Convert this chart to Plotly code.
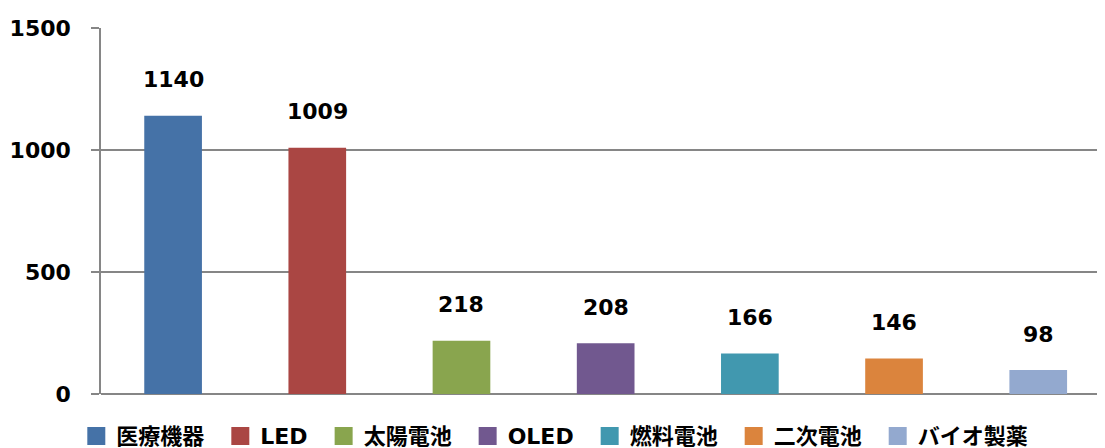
import plotly.graph_objects as go

categories = ["医療機器", "LED", "太陽電池", "OLED", "燃料電池", "二次電池", "バイオ製薬"]
values = [1140, 1009, 218, 208, 166, 146, 98]
colors = ["#4572A7", "#AA4643", "#89A54E", "#71588F", "#4198AF", "#DB843D", "#93A9CF"]
y_ticks = [0, 500, 1000, 1500]

FONT = "DejaVu Sans, Noto Sans CJK JP, sans-serif"

fig = go.Figure()
fig.add_trace(go.Bar(
    x=categories, y=values, marker=dict(color=colors, line=dict(width=0)),
    width=0.40, showlegend=False, hoverinfo="x+y",
))
for i, (c, col) in enumerate(zip(categories, colors)):
    pad = "\u2002" if i < len(categories) - 1 else ""
    fig.add_trace(go.Scatter(
        x=[None], y=[None], mode="markers", name=c + pad,
        marker=dict(symbol="square", size=16, color=col, line=dict(color=col, width=2)),
    ))

for c, v in zip(categories, values):
    fig.add_annotation(
        x=c, y=v, text=str(v), showarrow=False, yanchor="middle", yshift=36,
        font=dict(family=FONT, size=22, color="black", weight="bold"),
    )

# page body has an 8px margin, so the figure is sized to fit the 1105x448 window
fig.update_layout(
    width=1097, height=440,
    margin=dict(l=93, r=0, t=20, b=54, autoexpand=False),
    plot_bgcolor="white", paper_bgcolor="white",
    xaxis=dict(
        type="category", range=[-0.5, 6.463], showticklabels=False,
        showgrid=False, zeroline=False, showline=False, ticks="",
    ),
    yaxis=dict(
        range=[0, 1500], tickvals=y_ticks, ticktext=[str(t) for t in y_ticks],
        showgrid=True, gridcolor="#868686", gridwidth=1.5,
        zeroline=True, zerolinecolor="#868686", zerolinewidth=1.5,
        showline=True, linecolor="#868686", linewidth=1.5,
        ticks="outside", ticklen=8, tickcolor="#868686", tickwidth=1.5,
        tickfont=dict(family=FONT, size=22, color="black", weight="bold"),
        ticklabelstandoff=16,
    ),
    legend=dict(
        orientation="h", x=0.452, xanchor="center",
        y=-0.115, yanchor="middle",
        font=dict(family=FONT, size=22, color="black", weight="bold"),
        itemclick=False, tracegroupgap=0,
    ),
    showlegend=True,
)

fig.write_html("out.html")
